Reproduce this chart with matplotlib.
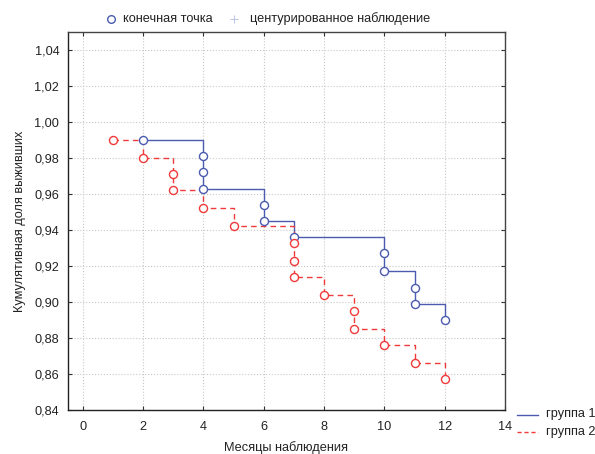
import matplotlib
matplotlib.use("Agg")
import matplotlib.pyplot as plt
from matplotlib.lines import Line2D

plt.rcParams['font.family'] = ['Liberation Sans', 'DejaVu Sans']

# Kaplan-Meier estimates: event times (months) and survival after each event
group1_times = [2, 4, 4, 4, 6, 6, 7, 10, 10, 11, 11, 12]
group1_surv = [0.990, 0.981, 0.972, 0.963, 0.954, 0.945, 0.936,
               0.927, 0.917, 0.908, 0.899, 0.890]

group2_times = [1, 2, 3, 3, 4, 5, 7, 7, 7, 8, 9, 9, 10, 11, 12]
group2_surv = [0.990, 0.980, 0.971, 0.962, 0.952, 0.942, 0.933, 0.923,
               0.914, 0.904, 0.895, 0.885, 0.876, 0.866, 0.857]

series_names = ["группа 1", "группа 2"]
marker_names = ["конечная точка", "центурированное наблюдение"]
x_ticks = list(range(0, 15, 2))
y_ticks = [0.84, 0.86, 0.88, 0.90, 0.92, 0.94, 0.96, 0.98, 1.00, 1.02, 1.04]

blue = '#4a5bb0'
red = '#f03a3a'
FS = 9.2
W, H = 595, 454


def fx(px):
    return px / W


def fy(py):
    return 1 - py / H


fig = plt.figure(figsize=(W / 100, H / 100), dpi=100)
ax = fig.add_axes([fx(67.7), fy(410), (505 - 67.7) / W, (410 - 32) / H])

ax.plot(group1_times, group1_surv, drawstyle='steps-post', color=blue, lw=1.0,
        zorder=3)
ax.plot(group1_times, group1_surv, ls='none', marker='o', ms=5.8, mfc='white',
        mec=blue, mew=1.0, zorder=4)
ax.plot(group2_times, group2_surv, drawstyle='steps-post', color=red, lw=1.0,
        ls=(0, (4, 3)), zorder=3)
ax.plot(group2_times, group2_surv, ls='none', marker='o', ms=5.8, mfc='white',
        mec=red, mew=1.0, zorder=4)

ax.set_xlim(-0.5, 14)
ax.set_ylim(0.84, 1.05)
ax.set_xticks(x_ticks)
ax.set_yticks(y_ticks)
ax.set_yticklabels([f"{v:.2f}".replace('.', ',') for v in y_ticks])
ax.set_xticklabels([str(v) for v in x_ticks])
ax.grid(True, color='#c8c8c8', ls=':', lw=0.8)
ax.set_axisbelow(True)
ax.tick_params(axis='both', labelsize=FS, color='#333333', labelcolor='#222222',
               direction='in', length=3, width=0.8, top=True, right=True)
ax.tick_params(axis='x', pad=8)
ax.tick_params(axis='y', pad=6)
for side in ['left', 'bottom']:
    ax.spines[side].set_color('#222222')
    ax.spines[side].set_linewidth(1.0)
for side in ['top', 'right']:
    ax.spines[side].set_color('#444444')
    ax.spines[side].set_linewidth(1.0)

ax.set_ylabel("Кумулятивная доля выживших", fontsize=FS, color='#222222',
              labelpad=6)
ax.set_xlabel("Месяцы наблюдения", fontsize=FS, color='#222222', labelpad=6)

# marker key above the plot
fig.add_artist(Line2D([fx(111)], [fy(19)], ls='none', marker='o', ms=5.5,
                      mfc='white', mec=blue, mew=1.0))
fig.text(fx(123), fy(19), marker_names[0], fontsize=FS, color='#222222',
         ha='left', va='center')
fig.add_artist(Line2D([fx(234)], [fy(19)], ls='none', marker='+', ms=6,
                      mec='#b8c4e4', mew=0.7))
fig.text(fx(250), fy(19), marker_names[1], fontsize=FS, color='#222222',
         ha='left', va='center')

# series key at the lower right
series_styles = [dict(color=blue, lw=1.0),
                 dict(color=red, lw=1.0, ls=(0, (3, 2)))]
for i, (name, style) in enumerate(zip(series_names, series_styles)):
    yy = 414.5 + i * 17
    fig.add_artist(Line2D([fx(517), fx(538)], [fy(yy), fy(yy)], **style))
    fig.text(fx(546), fy(yy), name, fontsize=FS, color='#222222',
             ha='left', va='center')

fig.savefig("out.png", dpi=100)
